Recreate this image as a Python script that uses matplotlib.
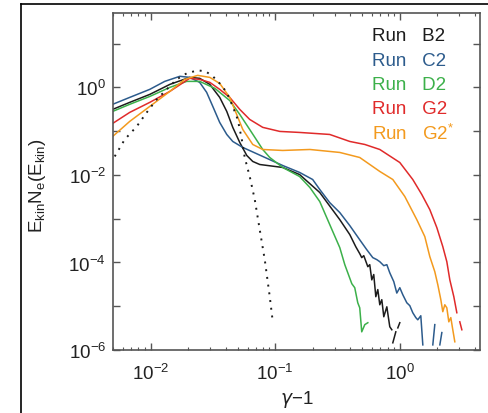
import numpy as np
import matplotlib
matplotlib.use("Agg")
import matplotlib.pyplot as plt
from matplotlib.ticker import LogLocator, FuncFormatter, NullLocator
from matplotlib.lines import Line2D

plt.rcParams['font.family'] = ['Liberation Sans', 'DejaVu Sans']
plt.rcParams['mathtext.fontset'] = 'custom'
plt.rcParams['mathtext.rm'] = 'Liberation Sans'
plt.rcParams['mathtext.it'] = 'DejaVu Sans:italic'
plt.rcParams['mathtext.default'] = 'regular'

# spectra E_kin N_e(E_kin) against gamma-1, nan marks empty bins
b2_x = [0.00497, 0.00681, 0.00986, 0.0143, 0.0206, 0.0248, 0.0299, 0.0359, 0.0409, 0.0457,
        0.0520, 0.0592, 0.0661, 0.0752, 0.115, 0.157, 0.228, 0.330, 0.397, 0.443, 0.477,
        0.495, 0.514, 0.554, 0.574, 0.596, 0.618, 0.642, 0.666, 0.691, 0.717, 0.744, 0.787,
        0.831, 0.863, np.nan, 0.879, 0.929, np.nan, 0.964, 1.0]
b2_y = [0.314, 0.454, 0.69, 1.17, 1.69, 1.61, 1.17, 0.59, 0.282, 0.122,
        0.0551, 0.0278, 0.0203, 0.0173, 0.0148, 0.0102, 0.00396, 0.00095, 0.000433, 0.00023, 0.000159,
        0.000129, 0.000143, 8.0e-5, 8.9e-5, 4.0e-5, 5.3e-5, 1.65e-5, 2.4e-5, 1.08e-5, 1.41e-5, 5.75e-6, 9.7e-6,
        3.4e-6, 2.9e-6, np.nan, 1.46e-6, 2.6e-6, np.nan, 3.2e-6, 4.2e-6]

c2_x = [0.00497, 0.00681, 0.00986, 0.0130, 0.0172, 0.0206, 0.0248, 0.0282, 0.0316, 0.0359,
        0.0409, 0.0457, 0.0550, 0.0795, 0.115, 0.157, 0.200, 0.228, 0.274, 0.330, 0.397,
        0.477, 0.543, 0.607, 0.654, 0.691, 0.744, 0.787, 0.831, 0.895, 0.946, 1.0, 1.057,
        1.138, 1.203, 1.271, 1.344, 1.394, 1.474, 1.530, np.nan, 1.84, 1.909, np.nan, 2.095, 2.174]
c2_y = [0.41, 0.59, 0.90, 1.37, 1.79, 1.69, 1.30, 0.77, 0.367, 0.158,
        0.084, 0.0581, 0.0424, 0.0264, 0.0164, 0.0114, 0.00785, 0.00464, 0.00233, 0.00138, 0.000695,
        0.00033, 0.000196, 0.000129, 0.000116, 0.000104, 8.45e-5, 8.9e-5, 5.8e-5, 3.64e-5, 2.0e-5, 2.65e-5, 1.83e-5,
        1.2e-5, 1.03e-5, 7.1e-6, 5.5e-6, 4.9e-6, 6.06e-6, 1.31e-6, np.nan, 1.31e-6, 3.8e-6, np.nan, 1.31e-6, 2.5e-6]

d2_x = [0.00497, 0.00681, 0.00986, 0.0143, 0.0195, 0.0248, 0.0328, 0.0432, 0.0520, 0.0625,
        0.0795, 0.0905, 0.115, 0.157, 0.190, 0.228, 0.290, 0.330, 0.362, 0.412, 0.435,
        0.460, 0.477, 0.495, 0.524, 0.554]
d2_y = [0.282, 0.41, 0.62, 1.0, 1.37, 1.37, 0.95, 0.50, 0.241, 0.109,
        0.0381, 0.025, 0.0148, 0.0092, 0.00515, 0.00246, 0.000507, 0.000218, 8.9e-5, 3.27e-5, 2.65e-5,
        1.2e-5, 9.2e-6, 2.6e-6, 3.8e-6, 4.2e-6]

g2_x = [0.00497, 0.00681, 0.00986, 0.0143, 0.0206, 0.0248, 0.0299, 0.0359, 0.0432, 0.0520,
        0.0625, 0.0795, 0.109, 0.157, 0.274, 0.397, 0.524, 0.691, 1.0, 1.271, 1.502,
        1.741, 1.982, 2.213, 2.384, 2.52, 2.713, 2.868, np.nan, 3.03, 3.146]
g2_y = [0.150, 0.268, 0.454, 0.81, 1.61, 1.52, 1.30, 0.90, 0.59, 0.314,
        0.185, 0.122, 0.0985, 0.0934, 0.084, 0.0581, 0.0496, 0.0381, 0.0192, 0.00785, 0.00356,
        0.00161, 0.000626, 0.00023, 0.000104, 4.0e-5, 1.65e-5, 7.1e-6, np.nan, 4.4e-6, 2.9e-6]

g2s_x = [0.00497, 0.00681, 0.00986, 0.0143, 0.0188, 0.0239, 0.0299, 0.0359, 0.0432, 0.0550,
         0.0661, 0.0795, 0.115, 0.190, 0.330, 0.477, 0.691, 0.879, 1.097, 1.369, 1.587,
         1.741, 1.909, 2.018, 2.134, 2.213, 2.297, 2.384, 2.473, 2.566, 2.662, 2.763]
g2s_y = [0.0756, 0.167, 0.367, 0.81, 1.52, 1.88, 1.69, 1.23, 0.59, 0.109,
         0.0496, 0.0381, 0.0362, 0.0381, 0.0326, 0.025, 0.012, 0.00785, 0.00321, 0.00095, 0.00039,
         0.000136, 6.15e-5, 3.1e-5, 1.41e-5, 7.5e-6, 1.08e-5, 9.2e-6, 4.4e-6, 5.5e-6, 2.9e-6, 1.54e-6]

# thermal reference curve
th_x = [0.00516, 0.00621, 0.00775, 0.00933, 0.0112, 0.0135, 0.0162, 0.0195, 0.0239, 0.0277,
        0.0316, 0.0359, 0.0409, 0.0457, 0.0501, 0.0540, 0.0570, 0.0625, 0.0686, 0.0752, 0.0825,
        0.0905, 0.0957]
th_y = [0.0264, 0.0646, 0.128, 0.268, 0.53, 0.90, 1.52, 2.09, 2.45, 2.32,
        1.79, 1.23, 0.77, 0.367, 0.185, 0.0646, 0.025, 0.0092, 0.00274, 0.00056, 0.000116,
        1.65e-5, 4.4e-6]

runs = ['B2', 'C2', 'D2', 'G2', 'G2$^{*}$']
colors = ['#1c1c1c', '#2c5b8c', '#3cb04a', '#e02a2a', '#f39a1e']
series = [(b2_x, b2_y), (c2_x, c2_y), (d2_x, d2_y), (g2_x, g2_y), (g2s_x, g2s_y)]

fig = plt.figure(figsize=(4.89, 4.14), dpi=100)
ax = fig.add_axes([113/489, 63/414, 367/489, 337/414])

for (xs, ys), c in zip(series, colors):
    ax.plot(xs, ys, color=c, lw=1.1)
ax.plot(th_x, th_y, color='#1c1c1c', lw=1.4, linestyle=(0, (1, 3)))

ax.set_xscale('log')
ax.set_yscale('log')
ax.set_xlim(0.005, 4.4)
ax.set_ylim(1e-6, 50)

gray = '#555555'
for s in ax.spines.values():
    s.set_color(gray)
    s.set_linewidth(1.2)

ax.xaxis.set_major_locator(LogLocator(base=10, numticks=20))
ax.xaxis.set_minor_locator(LogLocator(base=10, subs=np.arange(2, 10), numticks=20))
ax.yaxis.set_major_locator(LogLocator(base=10, numticks=20))
ax.yaxis.set_minor_locator(NullLocator())

def xfmt(v, pos):
    return r'$10^{%d}$' % round(np.log10(v))

def yfmt(v, pos):
    e = int(round(np.log10(v)))
    return r'$10^{%d}$' % e if e % 2 == 0 else ''

ax.xaxis.set_major_formatter(FuncFormatter(xfmt))
ax.yaxis.set_major_formatter(FuncFormatter(yfmt))
ax.tick_params(which='both', direction='in', top=True, right=True, color=gray,
               labelcolor='#222222', labelsize=13.5)
ax.tick_params(which='major', length=5, width=1.0)
ax.tick_params(which='minor', length=2.5, width=0.8)
ax.tick_params(axis='x', pad=9)
ax.tick_params(axis='y', pad=5)

ax.set_xlabel(r'$\mathit{\gamma}$$-$1', fontsize=13.5, color='#222222')
ax.xaxis.set_label_coords(0.5, -0.112)
ax.set_ylabel(r'$E_{kin}N_e(E_{kin})$', fontsize=13.5, color='#222222')
ax.yaxis.set_label_coords(-0.178, 0.49)

for i, (r, c) in enumerate(zip(runs, colors)):
    ax.text(0.706, 0.932 - i*0.072, 'Run   ' + r, color=c, fontsize=13.5,
            transform=ax.transAxes, ha='left', va='center')

# frame around the panel
fig.add_artist(Line2D([21/489, 21/489], [0, 1 - 5/414], color='black', lw=1.2))
fig.add_artist(Line2D([21/489, 1], [1 - 5/414, 1 - 5/414], color='black', lw=1.2))

fig.savefig('out.png', dpi=100)
